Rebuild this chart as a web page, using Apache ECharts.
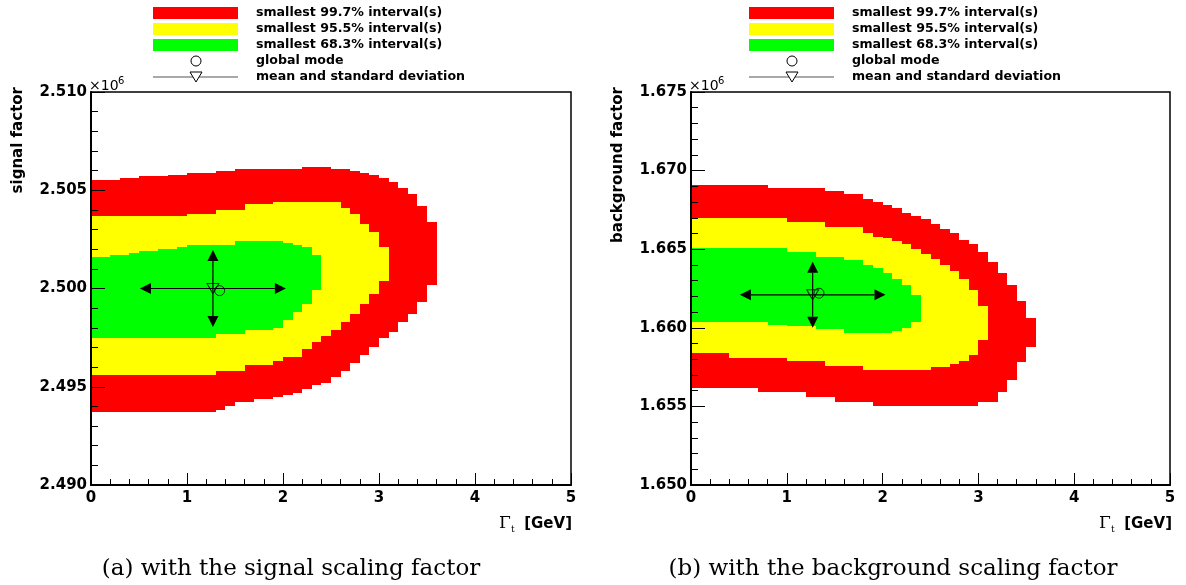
<!DOCTYPE html>
<html><head><meta charset="utf-8">
<script src="https://cdn.jsdelivr.net/npm/echarts/dist/echarts.min.js"></script>
<style>html,body{margin:0;padding:0;background:#fff}#chart{width:1186px;height:585px}</style>
</head><body><div id="chart"></div>
<script>
// ---- bin edges of Gamma_t [GeV] ----
const gammaBins = [0.0,0.1,0.2,0.3,0.4,0.5,0.6,0.7,0.8,0.9,1.0,1.1,1.2,1.3,1.4,1.5,1.6,1.7,1.8,1.9,2.0,2.1,2.2,2.3,2.4,2.5,2.6,2.7,2.8,2.9,3.0,3.1,3.2,3.3,3.4,3.5,3.6];

// ---- panel (a): signal factor (x1e6), per Gamma column lower/upper edges of each region ----
const sigRedHi = [2.5055,2.5055,2.5055,2.5056,2.5056,2.5057,2.5057,2.5057,2.5058,2.5058,2.5059,2.5059,2.5059,2.5060,2.5060,2.5061,2.5061,2.5061,2.5061,2.5061,2.5061,2.5061,2.5062,2.5062,2.5062,2.5061,2.5061,2.5060,2.5059,2.5058,2.5056,2.5054,2.5051,2.5048,2.5042,2.5034];
const sigRedLo = [2.4937,2.4937,2.4937,2.4937,2.4937,2.4937,2.4937,2.4937,2.4937,2.4937,2.4937,2.4937,2.4937,2.4938,2.4940,2.4942,2.4942,2.4944,2.4944,2.4945,2.4946,2.4947,2.4949,2.4951,2.4952,2.4955,2.4958,2.4962,2.4966,2.4970,2.4975,2.4978,2.4983,2.4987,2.4993,2.5002];
const sigYelHi = [2.5037,2.5037,2.5037,2.5037,2.5037,2.5037,2.5037,2.5037,2.5037,2.5037,2.5038,2.5038,2.5038,2.5040,2.5040,2.5040,2.5043,2.5043,2.5043,2.5044,2.5044,2.5044,2.5044,2.5044,2.5044,2.5044,2.5041,2.5038,2.5033,2.5029,2.5021];
const sigYelLo = [2.4956,2.4956,2.4956,2.4956,2.4956,2.4956,2.4956,2.4956,2.4956,2.4956,2.4956,2.4956,2.4956,2.4958,2.4958,2.4958,2.4961,2.4961,2.4961,2.4963,2.4965,2.4965,2.4969,2.4973,2.4976,2.4979,2.4983,2.4987,2.4992,2.4997,2.5004];
const sigGrnHi = [2.5016,2.5016,2.5017,2.5017,2.5018,2.5019,2.5019,2.5020,2.5020,2.5021,2.5022,2.5022,2.5022,2.5022,2.5022,2.5024,2.5024,2.5024,2.5024,2.5024,2.5023,2.5022,2.5021,2.5017];
const sigGrnLo = [2.4975,2.4975,2.4975,2.4975,2.4975,2.4975,2.4975,2.4975,2.4975,2.4975,2.4975,2.4975,2.4975,2.4977,2.4977,2.4977,2.4979,2.4979,2.4979,2.4980,2.4984,2.4988,2.4992,2.4999];
const sigMean = [1.27, 2.5000];
const sigStd  = [0.76, 0.00196];
const sigMode = [1.34, 2.49989];

// ---- panel (b): background factor (x1e6) ----
const bkgRedHi = [1.6691,1.6691,1.6691,1.6691,1.6691,1.6691,1.6691,1.6691,1.6689,1.6689,1.6689,1.6689,1.6689,1.6689,1.6687,1.6687,1.6685,1.6685,1.6682,1.6680,1.6678,1.6676,1.6673,1.6671,1.6669,1.6666,1.6663,1.6660,1.6656,1.6653,1.6648,1.6642,1.6635,1.6627,1.6617,1.6606];
const bkgRedLo = [1.6562,1.6562,1.6562,1.6562,1.6562,1.6562,1.6562,1.6559,1.6559,1.6559,1.6559,1.6559,1.6556,1.6556,1.6556,1.6553,1.6553,1.6553,1.6553,1.6550,1.6550,1.6550,1.6550,1.6550,1.6550,1.6550,1.6550,1.6550,1.6550,1.6550,1.6553,1.6553,1.6559,1.6567,1.6578,1.6588];
const bkgYelHi = [1.6670,1.6670,1.6670,1.6670,1.6670,1.6670,1.6670,1.6670,1.6670,1.6670,1.6667,1.6667,1.6667,1.6667,1.6664,1.6664,1.6664,1.6664,1.6660,1.6658,1.6657,1.6655,1.6653,1.6650,1.6647,1.6644,1.6640,1.6636,1.6631,1.6624,1.6614];
const bkgYelLo = [1.6584,1.6584,1.6584,1.6584,1.6581,1.6581,1.6581,1.6581,1.6581,1.6581,1.6579,1.6579,1.6579,1.6579,1.6576,1.6576,1.6576,1.6576,1.6573,1.6573,1.6573,1.6573,1.6573,1.6573,1.6573,1.6575,1.6575,1.6577,1.6579,1.6583,1.6592];
const bkgGrnHi = [1.6651,1.6651,1.6651,1.6651,1.6651,1.6651,1.6651,1.6651,1.6651,1.6651,1.6648,1.6648,1.6648,1.6645,1.6645,1.6645,1.6643,1.6643,1.6640,1.6638,1.6635,1.6631,1.6627,1.6621];
const bkgGrnLo = [1.6604,1.6604,1.6604,1.6604,1.6604,1.6604,1.6604,1.6604,1.6602,1.6602,1.6601,1.6601,1.6601,1.6599,1.6599,1.6599,1.6597,1.6597,1.6597,1.6597,1.6597,1.6598,1.6600,1.6604];
const bkgMean = [1.27, 1.6621];
const bkgStd  = [0.76, 0.0021];
const bkgMode = [1.336, 1.6622];

// ---- axes & texts ----
const xTicks = [0, 1, 2, 3, 4, 5];
const sigYTicks = [2.490, 2.495, 2.500, 2.505, 2.510];
const bkgYTicks = [1.650, 1.655, 1.660, 1.665, 1.670, 1.675];
const yTitles = ['signal factor', 'background factor'];
const captions = ['(a) with the signal scaling factor', '(b) with the background scaling factor'];
const legendLabels = ['smallest 99.7% interval(s)', 'smallest 95.5% interval(s)', 'smallest 68.3% interval(s)', 'global mode', 'mean and standard deviation'];
const bandColors = ['#ff0000', '#ffff00', '#00ff00'];

const chart = echarts.init(document.getElementById('chart'), null, {renderer: 'canvas'});

function rectRender(color) {
  return function (params, api) {
    const a = api.coord([api.value(0), api.value(3)]);
    const b = api.coord([api.value(1), api.value(2)]);
    const x = Math.round(a[0]), x2 = Math.round(b[0]);
    const y = Math.round(a[1]), y2 = Math.round(b[1]);
    return {type: 'rect', shape: {x: x, y: y, width: x2 - x, height: y2 - y}, style: {fill: color}};
  };
}
function band(gi, lo, hi, color) {
  return {
    type: 'custom', xAxisIndex: gi, yAxisIndex: gi, silent: true, animation: false, clip: true,
    renderItem: rectRender(color), encode: {x: [0, 1], y: [2, 3]},
    data: lo.map((v, i) => [gammaBins[i], gammaBins[i + 1], v, hi[i]])
  };
}
function arrowRender(params, api) {
  const mx = api.value(0), my = api.value(1), sx = api.value(2), sy = api.value(3);
  const L = api.coord([mx - sx, my]), R = api.coord([mx + sx, my]);
  const T = api.coord([mx, my + sy]), B = api.coord([mx, my - sy]);
  const h = 11, w = 5.5;
  const st = {stroke: '#000', lineWidth: 1.2};
  const fl = {fill: '#000'};
  return {type: 'group', children: [
    {type: 'line', shape: {x1: L[0] + h, y1: L[1], x2: R[0] - h, y2: R[1]}, style: st},
    {type: 'line', shape: {x1: T[0], y1: T[1] + h, x2: B[0], y2: B[1] - h}, style: st},
    {type: 'polygon', shape: {points: [[L[0], L[1]], [L[0] + h, L[1] - w], [L[0] + h, L[1] + w]]}, style: fl},
    {type: 'polygon', shape: {points: [[R[0], R[1]], [R[0] - h, R[1] - w], [R[0] - h, R[1] + w]]}, style: fl},
    {type: 'polygon', shape: {points: [[T[0], T[1]], [T[0] - w, T[1] + h], [T[0] + w, T[1] + h]]}, style: fl},
    {type: 'polygon', shape: {points: [[B[0], B[1]], [B[0] - w, B[1] - h], [B[0] + w, B[1] - h]]}, style: fl}
  ]};
}
function markers(gi, mean, std, mode) {
  return [
    {type: 'custom', xAxisIndex: gi, yAxisIndex: gi, silent: true, animation: false, z: 5,
     renderItem: arrowRender, data: [[mean[0], mean[1], std[0], std[1]]]},
    {type: 'scatter', xAxisIndex: gi, yAxisIndex: gi, silent: true, animation: false, z: 6,
     symbol: 'triangle', symbolRotate: 180, symbolSize: [12, 10],
     itemStyle: {color: 'rgba(0,0,0,0)', borderColor: '#000', borderWidth: 1}, data: [mean]},
    {type: 'scatter', xAxisIndex: gi, yAxisIndex: gi, silent: true, animation: false, z: 6,
     symbol: 'circle', symbolSize: 10,
     itemStyle: {color: 'rgba(0,0,0,0)', borderColor: '#000', borderWidth: 1}, data: [mode]}
  ];
}

const labelFont = {fontFamily: 'DejaVu Sans', fontWeight: 'bold', fontSize: 15, color: '#000'};
function xAx(gi) {
  return {
    type: 'value', gridIndex: gi, min: xTicks[0], max: xTicks[xTicks.length - 1], interval: 1, z: 10,
    axisLine: {show: true, onZero: false, lineStyle: {color: '#000', width: 2}},
    axisTick: {show: true, inside: true, length: 12, lineStyle: {color: '#000', width: 1}},
    minorTick: {show: true, splitNumber: 5, length: 6, lineStyle: {color: '#000', width: 1}},
    axisLabel: Object.assign({margin: 6}, labelFont),
    splitLine: {show: false}
  };
}
function yAx(gi, ticks) {
  return {
    type: 'value', gridIndex: gi, min: ticks[0], max: ticks[ticks.length - 1], interval: 0.005, z: 10,
    axisLine: {show: true, onZero: false, lineStyle: {color: '#000', width: 2}},
    axisTick: {show: true, inside: true, length: 14, lineStyle: {color: '#000', width: 1}},
    minorTick: {show: true, splitNumber: 5, length: 7, lineStyle: {color: '#000', width: 1}},
    axisLabel: Object.assign({margin: 4, formatter: v => v.toFixed(3)}, labelFont),
    splitLine: {show: false}
  };
}

function legendGraphics(dx) {
  const g = [];
  const rowsY = [13, 29, 45, 61, 77];
  for (let i = 0; i < 3; i++) {
    g.push({type: 'rect', shape: {x: 153 + dx, y: rowsY[i] - 6, width: 85, height: 12}, style: {fill: bandColors[i]}});
  }
  g.push({type: 'circle', shape: {cx: 196 + dx, cy: rowsY[3], r: 5}, style: {fill: 'none', stroke: '#000', lineWidth: 1}});
  g.push({type: 'line', shape: {x1: 153 + dx, y1: rowsY[4], x2: 238 + dx, y2: rowsY[4]}, style: {stroke: '#555', lineWidth: 1.2}});
  g.push({type: 'polygon', shape: {points: [[190 + dx, rowsY[4] - 5], [202 + dx, rowsY[4] - 5], [196 + dx, rowsY[4] + 5]]}, style: {fill: '#fff', stroke: '#000', lineWidth: 1}});
  for (let i = 0; i < 5; i++) {
    g.push({type: 'text', style: {x: 256 + dx, y: rowsY[i], text: legendLabels[i], font: 'bold 12.6px "DejaVu Sans"', fill: '#000', align: 'left', verticalAlign: 'middle'}});
  }
  return g;
}
function panelTexts(dx, yTitle, caption, capX) {
  return [
    {type: 'text', x: 18 + dx, y: 87, rotation: Math.PI / 2, style: {text: yTitle, font: 'bold 15px "DejaVu Sans"', fill: '#000', align: 'right', verticalAlign: 'middle'}},
    {type: 'text', style: {x: 89 + dx, y: 93, text: '\u00d710', font: '14px "DejaVu Sans"', fill: '#000', align: 'left', verticalAlign: 'bottom'}},
    {type: 'text', style: {x: 118 + dx, y: 86, text: '6', font: '10px "DejaVu Sans"', fill: '#000', align: 'left', verticalAlign: 'bottom'}},
    {type: 'text', style: {x: 499 + dx, y: 524, text: '\u0393', font: '17px "DejaVu Serif"', fill: '#000', align: 'left', verticalAlign: 'middle'}},
    {type: 'text', style: {x: 511 + dx, y: 530, text: 't', font: '9px "DejaVu Serif"', fill: '#000', align: 'left', verticalAlign: 'middle'}},
    {type: 'text', style: {x: 572 + dx, y: 524, text: '[GeV]', font: 'bold 15px "DejaVu Sans"', fill: '#000', align: 'right', verticalAlign: 'middle'}},
    {type: 'text', style: {x: capX, y: 569, text: caption, font: '23px "DejaVu Serif"', fill: '#000', align: 'center', verticalAlign: 'middle'}}
  ];
}

const option = {
  animation: false,
  backgroundColor: '#fff',
  grid: [
    {left: 91, top: 92, width: 480, height: 393, show: true, z: 10, borderColor: '#000', borderWidth: 1.5, backgroundColor: 'rgba(0,0,0,0)'},
    {left: 691, top: 92, width: 479, height: 393, show: true, z: 10, borderColor: '#000', borderWidth: 1.5, backgroundColor: 'rgba(0,0,0,0)'}
  ],
  xAxis: [xAx(0), xAx(1)],
  yAxis: [yAx(0, sigYTicks), yAx(1, bkgYTicks)],
  series: [
    band(0, sigRedLo, sigRedHi, bandColors[0]),
    band(0, sigYelLo, sigYelHi, bandColors[1]),
    band(0, sigGrnLo, sigGrnHi, bandColors[2]),
    ...markers(0, sigMean, sigStd, sigMode),
    band(1, bkgRedLo, bkgRedHi, bandColors[0]),
    band(1, bkgYelLo, bkgYelHi, bandColors[1]),
    band(1, bkgGrnLo, bkgGrnHi, bandColors[2]),
    ...markers(1, bkgMean, bkgStd, bkgMode)
  ],
  graphic: [
    ...legendGraphics(0), ...legendGraphics(596),
    ...panelTexts(0, yTitles[0], captions[0], 291),
    ...panelTexts(600, yTitles[1], captions[1], 893)
  ]
};
chart.setOption(option);
</script>
</body></html>
